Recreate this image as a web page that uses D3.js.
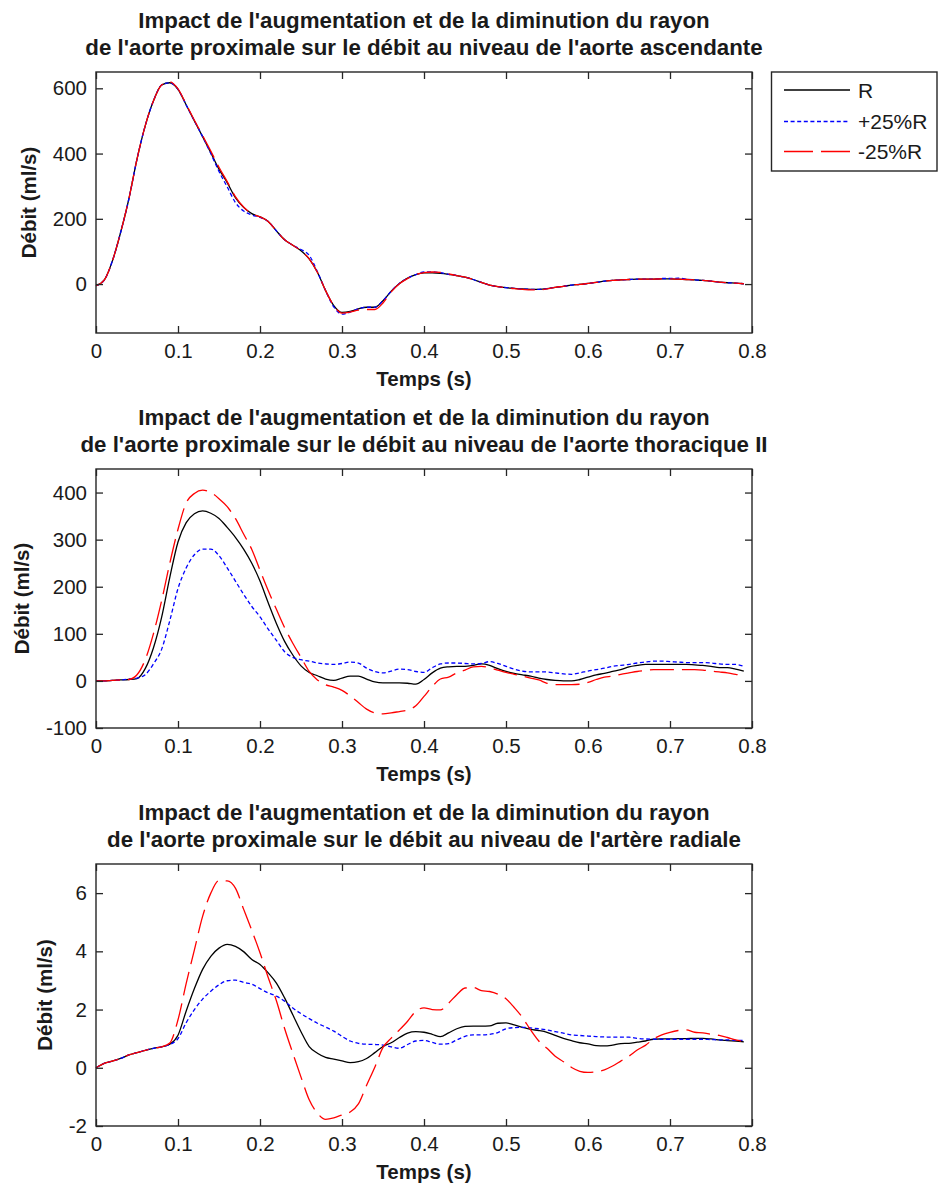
<!DOCTYPE html>
<html><head><meta charset="utf-8">
<script src="https://cdn.jsdelivr.net/npm/d3@7/dist/d3.min.js"></script>
<style>
html,body{margin:0;padding:0;background:#fff;}
svg{display:block;}
text{font-family:"Liberation Sans",Arial,sans-serif;fill:#1a1a1a;}
</style></head>
<body><svg id="chart" width="938" height="1187"></svg>
<script>
// ---- data ----
const time = [0,0.01,0.02,0.03,0.04,0.05,0.06,0.07,0.08,0.09,
0.10,0.11,0.12,0.13,0.14,0.15,0.16,0.17,0.18,0.19,
0.20,0.21,0.22,0.23,0.24,0.25,0.26,0.27,0.28,0.29,
0.30,0.31,0.32,0.33,0.34,0.35,0.36,0.37,0.38,0.39,
0.40,0.41,0.42,0.43,0.44,0.45,0.46,0.47,0.48,0.49,
0.50,0.51,0.52,0.53,0.54,0.55,0.56,0.57,0.58,0.59,
0.60,0.61,0.62,0.63,0.64,0.65,0.66,0.67,0.68,0.69,
0.70,0.71,0.72,0.73,0.74,0.75,0.76,0.77,0.78,0.79];

const seriesNames = ["R", "+25%R", "-25%R"];

// Aorte ascendante
const ascR = [-5,12,71,158,260,383,485,561,610,617, 597,549,500,452,403,352,311,265,235,216,
206,192,163,136,119,102,77,36,-20,-66, -87,-84,-76,-71,-71,-51,-22,2,18,29,
34,34,33,30,26,21,14,5,-3,-8, -11,-13,-15,-16,-16,-14,-10,-7,-3,-1,
2,5,9,11,13,14,15,15,15,16, 16,15,14,13,11,9,6,4,3,1];
const ascPlus = [-5,12,71,158,260,383,485,561,610,617, 597,549,500,452,400,345,298,250,224,212,
204,192,163,136,119,106,88,38,-20,-70, -92,-86,-76,-71,-71,-51,-22,2,18,29,
37,37,35,30,26,21,14,5,-3,-8, -11,-13,-15,-16,-16,-14,-10,-7,-3,-1,
2,5,9,11,13,14,15,15,15,17, 17,18,15,13,11,9,6,4,3,1];
const ascMinus = [-5,12,71,158,260,383,485,561,610,620, 598,551,502,455,408,358,314,268,236,216,
206,192,163,136,119,102,77,36,-20,-66, -89,-86,-80,-78,-78,-58,-24,1,17,29,
35,37,36,31,26,21,14,5,-3,-8, -11,-14,-16,-18,-18,-15,-10,-7,-3,-1,
2,5,9,11,13,14,15,15,15,16, 16,15,14,13,11,9,6,4,3,1];

// Aorte thoracique II
const thorR = [0,0,1,2,3,5,26,70,135,220, 295,336,355,361,356,345,326,305,280,250,
212,166,122,84,55,32,18,11,4,1, 6,10,10,4,-2,-4,-4,-4,-5,-7,
3,17,27,30,31,31,33,36,33,26, 20,16,13,10,6,3,1,0,0,3,
8,13,16,20,24,30,33,35,35,35, 35,35,35,34,33,31,28,28,25,21];
const thorPlus = [0,0,1,2,4,6,13,36,67,128, 196,240,268,280,280,266,240,212,184,158,
136,110,86,62,50,45,42,38,36,35, 37,40,38,27,20,17,21,25,24,20,
18,28,36,38,38,37,36,37,41,37, 31,25,21,19,19,19,17,15,14,17,
21,24,27,31,33,35,38,40,42,42, 41,40,39,39,39,38,36,35,35,31];
const thorMinus = [0,0,1,2,3,13,45,100,170,250, 322,378,398,405,400,387,370,345,312,279,
235,192,152,113,80,50,20,2,-8,-13, -20,-32,-46,-60,-68,-70,-68,-65,-62,-53,
-33,-12,4,8,17,23,30,31,28,23, 18,14,10,6,2,-5,-8,-8,-8,-7,
-3,3,8,10,14,17,20,22,24,24, 24,24,24,24,23,21,19,17,14,12];

// Artère radiale
const radR = [0,0.15,0.23,0.32,0.44,0.52,0.60,0.67,0.72,0.81,
1.12,1.95,2.72,3.38,3.83,4.11,4.24,4.17,3.99,3.72,
3.55,3.26,2.91,2.40,1.82,1.24,0.73,0.50,0.36,0.30,
0.24,0.18,0.21,0.32,0.52,0.73,0.86,1.04,1.19,1.24,
1.22,1.15,1.07,1.20,1.34,1.42,1.43,1.43,1.44,1.53,
1.54,1.47,1.39,1.32,1.28,1.22,1.11,1.01,0.93,0.86,
0.82,0.76,0.75,0.78,0.83,0.84,0.88,0.92,0.98,0.99,
0.99,1.00,1.00,1.01,1.01,0.99,0.96,0.93,0.92,0.89];
const radPlus = [0,0.15,0.23,0.32,0.44,0.52,0.60,0.67,0.72,0.80,
1.00,1.55,2.00,2.36,2.63,2.85,2.99,3.01,2.93,2.87,
2.72,2.57,2.46,2.29,2.05,1.86,1.69,1.53,1.40,1.26,
1.08,0.92,0.84,0.81,0.80,0.78,0.72,0.67,0.80,0.92,
0.94,0.87,0.81,0.83,0.96,1.08,1.13,1.13,1.15,1.21,
1.34,1.38,1.39,1.37,1.34,1.30,1.24,1.19,1.13,1.11,
1.09,1.07,1.06,1.05,1.05,1.05,1.01,0.99,0.98,0.98,
0.98,0.98,0.98,0.98,0.98,0.97,0.96,0.96,0.94,0.94];
const radMinus = [0,0.15,0.23,0.32,0.44,0.52,0.60,0.67,0.72,0.85,
1.65,2.90,4.05,5.20,6.00,6.43,6.42,6.17,5.45,4.72,
3.95,3.10,2.30,1.35,0.50,-0.32,-1.10,-1.56,-1.77,-1.72,
-1.62,-1.52,-1.24,-0.60,0.02,0.70,1.02,1.30,1.60,1.94,
2.06,2.00,1.99,2.22,2.51,2.74,2.76,2.65,2.62,2.53,
2.37,2.07,1.73,1.30,0.92,0.67,0.40,0.21,0.01,-0.12,
-0.16,-0.14,-0.07,0.06,0.23,0.40,0.61,0.77,0.99,1.13,
1.22,1.28,1.30,1.22,1.20,1.15,1.11,1.04,0.96,0.90];

const xTicks = [0,0.1,0.2,0.3,0.4,0.5,0.6,0.7,0.8];
const xTickLabels = ["0","0.1","0.2","0.3","0.4","0.5","0.6","0.7","0.8"];
const ascYTicks = [0,200,400,600];
const ascYTickLabels = ["0","200","400","600"];
const thorYTicks = [-100,0,100,200,300,400];
const thorYTickLabels = ["-100","0","100","200","300","400"];
const radYTicks = [-2,0,2,4,6];
const radYTickLabels = ["-2","0","2","4","6"];

const titleLine1 = "Impact de l'augmentation et de la diminution du rayon";
const titles2 = [
  "de l'aorte proximale sur le débit au niveau de l'aorte ascendante",
  "de l'aorte proximale sur le débit au niveau de l'aorte thoracique II",
  "de l'aorte proximale sur le débit au niveau de l'artère radiale"
];
const xLabel = "Temps (s)";
const yLabel = "Débit (ml/s)";

// ---- layout/style ----
const colors = ["#000000", "#0000ff", "#ff0000"];
const dashes = [null, "4,2.6", "24,8"];
const panels = [
  {top:72, bottom:333, yDomain:[-150,650], yTicks:ascYTicks, yLabels:ascYTickLabels, series:[ascR,ascPlus,ascMinus], title2:titles2[0]},
  {top:469, bottom:728, yDomain:[-100,450], yTicks:thorYTicks, yLabels:thorYTickLabels, series:[thorR,thorPlus,thorMinus], title2:titles2[1]},
  {top:864, bottom:1126, yDomain:[-2,7], yTicks:radYTicks, yLabels:radYTickLabels, series:[radR,radPlus,radMinus], title2:titles2[2]}
];
const left = 96, right = 752;
const axisColor = "#262626";

const svg = d3.select("#chart");
svg.append("rect").attr("width",938).attr("height",1187).attr("fill","#fff");

const x = d3.scaleLinear().domain([0,0.8]).range([left,right]);

panels.forEach((p) => {
  const y = d3.scaleLinear().domain(p.yDomain).range([p.bottom,p.top]);
  const g = svg.append("g");

  // series
  const line = d3.line().x((d,i)=>x(time[i])).y(d=>y(d)).curve(d3.curveMonotoneX);
  p.series.forEach((s,k)=>{
    g.append("path").datum(s).attr("d",line)
      .attr("fill","none").attr("stroke",colors[k]).attr("stroke-width",1.3)
      .attr("stroke-dasharray",dashes[k]);
  });

  // axes
  const fmtX = (d,i)=>xTickLabels[i];
  const fmtY = (d,i)=>p.yLabels[i];
  const bottomAxis = g.append("g").attr("transform",`translate(0,${p.bottom})`)
    .call(d3.axisBottom(x).tickValues(xTicks).tickFormat(fmtX).tickSizeInner(-7).tickSizeOuter(0).tickPadding(10));
  const topAxis = g.append("g").attr("transform",`translate(0,${p.top})`)
    .call(d3.axisTop(x).tickValues(xTicks).tickFormat("").tickSizeInner(-7).tickSizeOuter(0));
  const leftAxis = g.append("g").attr("transform",`translate(${left},0)`)
    .call(d3.axisLeft(y).tickValues(p.yTicks).tickFormat(fmtY).tickSizeInner(-7).tickSizeOuter(0).tickPadding(9));
  const rightAxis = g.append("g").attr("transform",`translate(${right},0)`)
    .call(d3.axisRight(y).tickValues(p.yTicks).tickFormat("").tickSizeInner(-7).tickSizeOuter(0));
  [bottomAxis,topAxis,leftAxis,rightAxis].forEach(a=>{
    a.select(".domain").remove();
    a.selectAll("line").attr("stroke",axisColor).attr("stroke-width",1.3);
    a.selectAll("text").attr("font-size","20.5px").attr("fill","#1a1a1a")
      .attr("font-family",'"Liberation Sans",Arial,sans-serif');
  });
  g.append("rect").attr("x",left).attr("y",p.top).attr("width",right-left).attr("height",p.bottom-p.top)
    .attr("fill","none").attr("stroke",axisColor).attr("stroke-width",1.4);

  // axis labels
  let maxW = 0;
  leftAxis.selectAll("text").each(function(){ maxW = Math.max(maxW, this.getBBox().width); });
  const labX = left - 9 - maxW - 24.5;
  g.append("text").attr("transform",`translate(${labX},${(p.top+p.bottom)/2}) rotate(-90)`)
    .attr("text-anchor","middle").attr("dominant-baseline","central")
    .attr("font-size","20.5px").attr("font-weight","bold").text(yLabel);
  g.append("text").attr("x",(left+right)/2).attr("y",p.bottom+45)
    .attr("text-anchor","middle").attr("dominant-baseline","central")
    .attr("font-size","20.5px").attr("font-weight","bold").text(xLabel);

  // titles
  g.append("text").attr("x",(left+right)/2).attr("y",p.top-51.5)
    .attr("text-anchor","middle").attr("dominant-baseline","central")
    .attr("font-size","22.3px").attr("font-weight","bold").text(titleLine1);
  g.append("text").attr("x",(left+right)/2).attr("y",p.top-25)
    .attr("text-anchor","middle").attr("dominant-baseline","central")
    .attr("font-size","22.3px").attr("font-weight","bold").text(p.title2);
});

// legend
const lg = svg.append("g");
lg.append("rect").attr("x",771.5).attr("y",72).attr("width",165.5).attr("height",99)
  .attr("fill","#fff").attr("stroke",axisColor).attr("stroke-width",1.4);
const rowY = [90, 121.5, 151.5];
const legendDashes = [null, "4,2.6", "29,8"];
seriesNames.forEach((n,k)=>{
  lg.append("line").attr("x1",784).attr("x2",850).attr("y1",rowY[k]).attr("y2",rowY[k])
    .attr("stroke",colors[k]).attr("stroke-width",1.3).attr("stroke-dasharray",legendDashes[k]);
  lg.append("text").attr("x",858).attr("y",rowY[k]).attr("dominant-baseline","central")
    .attr("font-size","21px").text(n);
});
</script>
</body></html>
